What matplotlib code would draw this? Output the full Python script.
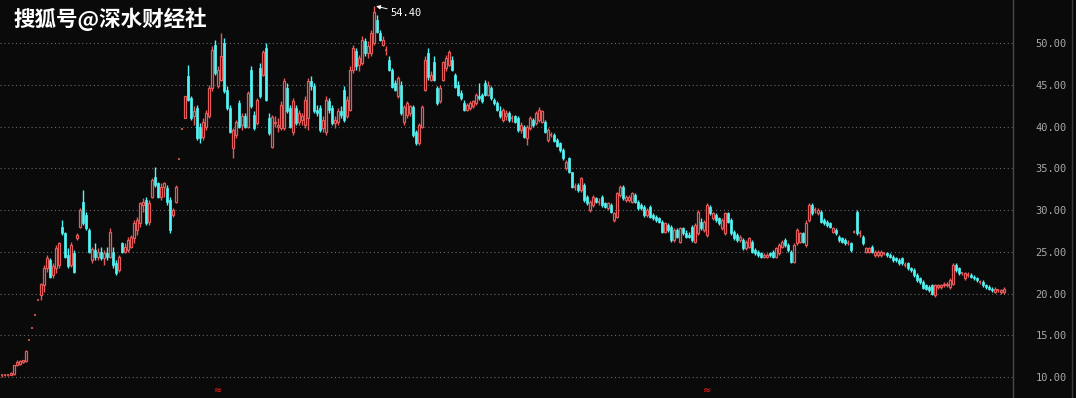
import matplotlib
matplotlib.use("Agg")
import matplotlib.pyplot as plt
import numpy as np

# daily OHLC, left to right
opens = [
    10.1, 10.2, 10.2, 10.3, 10.4, 11.4, 11.6, 11.8, 11.9, 14.4,
    15.9, 17.4, 19.2, 19.8, 21.0, 23.0, 24.0, 22.2, 23.0, 23.4,
    28.0, 27.2, 24.6, 23.4, 24.8, 26.6, 28.0, 31.0, 29.4, 27.6,
    24.0, 25.2, 24.4, 25.0, 24.2, 24.8, 24.4, 25.0, 23.6, 22.8,
    26.0, 25.0, 25.2, 25.6, 26.6, 27.6, 28.4, 30.6, 31.2, 28.6,
    31.6, 34.0, 33.2, 31.6, 32.8, 32.6, 31.2, 29.4, 31.0, 36.1,
    39.7, 41.0, 46.0, 43.4, 41.2, 42.2, 40.0, 38.8, 40.0, 41.2,
    44.6, 49.8, 44.8, 45.6, 50.0, 44.4, 42.2, 37.4, 39.0, 42.8,
    40.2, 41.2, 40.0, 46.8, 41.4, 40.4, 47.0, 46.2, 49.4, 41.0,
    37.6, 40.4, 40.0, 39.8, 39.8, 44.6, 42.2, 39.4, 42.2, 40.6,
    40.8, 40.2, 41.0, 45.4, 44.8, 42.0, 42.2, 39.8, 39.4, 43.0,
    42.2, 40.4, 40.6, 41.8, 44.4, 41.2, 42.0, 46.8, 49.0, 47.4,
    47.6, 50.2, 48.8, 48.8, 50.0, 52.8, 51.2, 49.8, 49.2, 48.0,
    46.8, 45.2, 43.6, 45.0, 40.5, 41.4, 41.6, 42.3, 39.4, 38.0,
    40.0, 44.4, 48.8, 45.6, 47.7, 44.6, 43.0, 45.6, 47.0, 47.4,
    48.0, 46.2, 45.0, 44.0, 42.8, 42.0, 42.2, 42.4, 42.8, 43.6,
    43.8, 45.2, 43.8, 44.6, 43.2, 42.8, 41.8, 40.8, 41.2, 41.6,
    41.0, 41.2, 41.0, 39.6, 40.0, 38.6, 39.8, 40.8, 40.4, 40.8,
    40.6, 40.5, 38.4, 39.0, 39.0, 38.4, 38.0, 37.2, 35.0, 36.2,
    34.5, 32.8, 33.0, 32.4, 33.0, 31.6, 30.0, 30.6, 31.4, 31.0,
    31.6, 30.8, 30.2, 30.6, 28.8, 29.2, 31.8, 32.8, 31.2, 31.2,
    31.0, 31.8, 31.0, 30.6, 30.4, 29.4, 30.4, 29.4, 29.2, 29.0,
    28.6, 27.4, 28.2, 28.0, 26.4, 27.6, 26.2, 27.8, 27.2, 27.0,
    28.0, 26.2, 27.2, 28.6, 27.6, 27.0, 30.4, 29.0, 29.4, 29.0,
    27.8, 27.2, 29.6, 28.8, 27.4, 27.0, 26.4, 26.4, 25.4, 25.6,
    26.2, 25.2, 25.0, 24.8, 24.4, 24.4, 24.8, 25.0, 24.4, 24.8,
    25.6, 26.4, 25.8, 25.0, 23.8, 26.0, 26.2, 27.2, 25.8, 28.8,
    30.6, 30.0, 29.6, 29.8, 28.8, 28.6, 28.4, 27.4, 27.6, 26.8,
    26.6, 26.4, 26.0, 26.0, 27.4, 29.8, 27.2, 26.8, 25.0, 25.0,
    25.6, 24.6, 24.6, 24.6, 24.8, 24.8, 24.6, 24.4, 24.2, 24.0,
    24.2, 23.4, 23.6, 23.0, 22.8, 22.2, 21.8, 21.4, 21.0, 20.8,
    21.0, 19.8, 20.8, 20.8, 21.0, 21.0, 20.8, 21.2, 23.4, 23.0,
    22.4, 21.8, 22.2, 22.2, 22.0, 21.8, 21.4, 21.4, 21.0, 20.8,
    20.6, 20.2, 20.4, 20.2, 20.2,
]
highs = [
    10.3, 10.4, 10.4, 10.6, 11.5, 12.0, 12.0, 12.1, 13.2, 14.4,
    15.9, 17.4, 19.2, 21.3, 23.4, 24.6, 24.3, 23.6, 25.8, 26.2,
    28.8, 27.4, 25.4, 26.2, 25.2, 27.3, 30.2, 32.4, 29.8, 27.8,
    25.6, 26.0, 25.4, 25.6, 25.2, 25.6, 27.8, 25.6, 24.0, 24.6,
    26.2, 26.0, 26.8, 27.0, 28.8, 29.2, 31.0, 31.4, 31.6, 31.2,
    33.8, 35.2, 33.4, 33.2, 33.4, 33.0, 31.6, 30.2, 33.0, 36.1,
    39.7, 43.7, 47.4, 43.6, 42.4, 42.6, 40.4, 41.0, 42.0, 45.0,
    49.6, 50.4, 47.2, 51.2, 50.6, 44.8, 42.6, 39.8, 40.8, 43.2,
    41.6, 41.6, 44.2, 47.2, 41.8, 43.4, 47.6, 49.2, 50.0, 41.6,
    41.4, 41.2, 41.0, 43.0, 45.8, 45.2, 42.6, 43.4, 42.6, 42.0,
    41.6, 43.6, 45.8, 46.0, 45.2, 42.6, 42.6, 41.2, 43.6, 43.4,
    42.6, 41.2, 42.2, 42.4, 44.8, 43.6, 47.2, 49.8, 49.4, 48.6,
    50.8, 50.6, 50.2, 51.6, 54.4, 53.4, 51.6, 50.8, 49.6, 48.4,
    47.0, 45.6, 46.0, 45.4, 42.6, 43.0, 42.6, 42.6, 39.6, 40.4,
    42.6, 48.4, 49.4, 46.6, 48.4, 44.8, 45.0, 47.9, 48.6, 49.2,
    48.4, 46.4, 45.4, 44.4, 43.2, 42.8, 43.0, 43.2, 44.0, 45.2,
    44.0, 45.6, 45.4, 44.8, 43.4, 43.0, 42.4, 42.2, 42.0, 41.8,
    41.4, 41.4, 41.2, 40.6, 40.2, 40.2, 41.2, 41.0, 41.8, 42.3,
    42.0, 40.8, 39.8, 39.4, 39.2, 38.6, 38.2, 37.4, 36.0, 36.4,
    34.6, 33.2, 33.2, 34.0, 33.2, 31.8, 31.2, 31.8, 31.6, 31.4,
    31.8, 31.0, 31.0, 30.8, 29.8, 32.2, 33.0, 33.0, 31.8, 31.8,
    32.2, 32.0, 31.2, 30.8, 30.6, 30.2, 30.6, 29.6, 29.4, 29.2,
    28.8, 28.6, 28.4, 28.2, 27.8, 27.8, 28.0, 28.0, 27.6, 27.4,
    28.2, 28.4, 30.0, 29.0, 28.8, 30.8, 30.6, 29.8, 29.6, 29.2,
    29.0, 29.8, 29.8, 29.0, 27.6, 27.2, 27.0, 26.6, 26.4, 26.8,
    26.4, 25.4, 25.2, 25.0, 24.8, 24.8, 25.0, 25.2, 25.6, 26.0,
    26.4, 26.6, 26.0, 25.2, 26.0, 27.8, 27.4, 27.4, 28.8, 30.8,
    30.8, 30.4, 30.2, 30.0, 29.0, 28.8, 28.6, 28.0, 27.8, 27.0,
    26.8, 26.6, 26.4, 26.2, 27.6, 30.0, 27.6, 27.0, 25.6, 25.6,
    25.8, 25.2, 25.2, 25.2, 25.0, 25.0, 24.8, 24.6, 24.4, 24.2,
    24.4, 23.8, 23.8, 23.2, 23.0, 22.4, 22.0, 21.6, 21.2, 21.0,
    21.2, 21.2, 21.2, 21.2, 21.4, 21.4, 21.8, 23.6, 23.6, 23.2,
    22.6, 22.6, 22.6, 22.4, 22.2, 22.0, 21.6, 21.6, 21.2, 21.0,
    20.8, 20.8, 20.6, 20.6, 20.8,
]
lows = [
    10.0, 10.1, 10.1, 10.2, 10.3, 11.3, 11.5, 11.7, 11.8, 14.4,
    15.9, 17.4, 19.2, 19.2, 20.2, 22.6, 21.8, 21.8, 22.4, 23.0,
    27.0, 24.2, 23.0, 23.2, 22.4, 26.4, 27.8, 28.2, 27.6, 24.8,
    23.6, 24.0, 24.0, 24.0, 23.4, 24.0, 24.2, 23.0, 22.2, 22.6,
    24.8, 24.8, 25.0, 25.4, 26.0, 27.0, 28.0, 29.8, 28.2, 28.2,
    31.4, 32.8, 31.4, 31.2, 31.6, 30.6, 27.2, 29.2, 30.8, 36.1,
    39.7, 41.0, 43.0, 40.8, 40.2, 38.4, 38.0, 38.4, 39.6, 41.0,
    44.2, 46.2, 44.6, 45.4, 44.0, 42.0, 39.2, 36.2, 38.6, 39.8,
    39.6, 39.8, 39.8, 42.2, 39.6, 40.2, 43.4, 46.0, 43.0, 39.0,
    37.4, 40.0, 39.4, 39.6, 39.6, 41.6, 39.8, 39.0, 40.2, 40.2,
    40.2, 39.8, 39.6, 44.4, 41.6, 41.2, 39.4, 39.4, 39.0, 41.6,
    40.2, 39.8, 40.2, 41.0, 40.6, 41.0, 41.8, 46.4, 46.8, 46.6,
    47.4, 48.4, 48.2, 48.4, 49.8, 51.2, 50.2, 49.6, 48.6, 46.6,
    44.6, 44.2, 43.4, 41.4, 40.2, 41.0, 41.2, 38.8, 37.8, 37.8,
    39.8, 44.2, 45.6, 45.4, 45.4, 42.6, 42.8, 45.4, 46.6, 47.2,
    46.6, 44.6, 43.6, 43.2, 41.8, 41.8, 42.0, 42.2, 42.6, 43.2,
    42.8, 43.6, 43.6, 43.2, 42.6, 41.8, 41.0, 40.6, 40.8, 40.6,
    40.6, 40.4, 39.4, 39.2, 38.6, 37.8, 39.6, 40.0, 40.2, 40.6,
    40.4, 39.2, 38.2, 38.8, 38.2, 37.6, 37.0, 36.0, 34.8, 34.4,
    32.6, 32.4, 32.2, 32.2, 31.0, 30.6, 29.8, 30.4, 30.8, 30.6,
    30.4, 30.2, 30.0, 29.6, 28.6, 29.0, 31.6, 31.2, 31.0, 31.0,
    30.8, 30.8, 30.0, 30.0, 29.2, 29.2, 29.0, 28.8, 28.6, 28.4,
    27.2, 27.2, 27.4, 26.2, 26.2, 26.6, 26.0, 27.0, 26.6, 26.6,
    26.2, 26.0, 27.0, 27.6, 27.4, 26.8, 29.4, 28.8, 28.6, 28.2,
    27.6, 27.0, 28.4, 27.0, 26.4, 26.2, 26.2, 25.2, 25.2, 25.4,
    24.8, 24.6, 24.4, 24.2, 24.2, 24.2, 24.4, 24.2, 24.2, 24.6,
    25.4, 25.6, 25.0, 23.6, 23.6, 25.8, 26.0, 26.0, 25.6, 28.6,
    29.4, 29.6, 29.4, 28.4, 28.2, 28.0, 27.8, 27.2, 27.0, 26.2,
    26.0, 25.8, 25.8, 25.0, 27.2, 27.0, 26.8, 25.8, 24.8, 24.8,
    24.8, 24.4, 24.4, 24.4, 24.6, 24.4, 24.2, 23.8, 23.8, 23.4,
    23.4, 23.2, 22.8, 22.6, 22.0, 21.4, 21.2, 20.6, 20.4, 20.2,
    19.8, 19.6, 20.6, 20.6, 20.8, 20.8, 20.6, 21.0, 22.6, 22.2,
    22.2, 21.6, 22.0, 21.8, 21.6, 21.4, 21.2, 20.8, 20.6, 20.4,
    20.2, 20.1, 20.2, 20.0, 20.0,
]
closes = [
    10.2, 10.3, 10.3, 10.5, 11.4, 11.8, 11.9, 12.0, 13.1, 14.4,
    15.9, 17.4, 19.2, 21.1, 23.0, 24.2, 22.0, 23.3, 25.5, 26.0,
    27.3, 24.4, 23.3, 25.8, 22.6, 27.0, 30.0, 28.4, 27.8, 25.0,
    25.3, 24.4, 25.0, 24.2, 24.8, 24.4, 27.4, 23.4, 22.4, 24.4,
    25.0, 25.6, 26.4, 26.8, 28.4, 28.8, 30.8, 31.0, 28.4, 30.8,
    33.6, 33.0, 31.6, 32.8, 33.2, 31.0, 27.6, 30.0, 32.8, 36.1,
    39.7, 43.6, 43.2, 41.0, 41.8, 38.6, 38.6, 40.6, 41.6, 44.6,
    49.2, 46.4, 46.8, 48.4, 44.2, 42.2, 39.4, 39.6, 40.6, 40.0,
    41.2, 40.0, 44.0, 42.4, 39.8, 43.2, 43.6, 48.9, 43.2, 39.2,
    41.1, 40.6, 40.2, 42.6, 45.4, 41.8, 40.0, 43.0, 40.4, 41.6,
    41.2, 43.2, 45.4, 44.8, 41.8, 41.6, 39.6, 40.8, 43.2, 42.0,
    40.4, 40.8, 41.8, 41.4, 40.8, 43.2, 46.8, 49.4, 47.2, 48.2,
    50.4, 48.8, 49.6, 51.2, 53.7, 51.3, 50.4, 50.4, 49.2, 46.8,
    44.7, 44.4, 45.8, 41.6, 42.3, 42.8, 42.4, 39.0, 38.0, 40.2,
    42.3, 48.0, 45.9, 46.2, 45.6, 42.8, 44.6, 47.7, 48.2, 48.9,
    46.8, 44.7, 43.8, 43.4, 42.0, 42.6, 42.8, 43.0, 43.8, 43.4,
    43.0, 43.8, 45.0, 43.4, 42.8, 42.0, 41.2, 42.0, 41.6, 40.8,
    41.0, 40.6, 39.6, 40.2, 38.7, 40.0, 41.0, 40.2, 41.6, 42.0,
    41.8, 39.3, 39.6, 39.0, 38.3, 37.7, 37.2, 36.2, 35.8, 34.5,
    32.8, 32.8, 32.4, 33.8, 31.2, 30.8, 31.0, 31.6, 31.0, 31.0,
    30.6, 30.4, 30.8, 29.8, 29.6, 32.0, 32.8, 31.4, 31.6, 31.6,
    32.0, 31.0, 30.2, 30.2, 29.4, 30.0, 29.2, 29.0, 28.8, 28.6,
    27.4, 28.4, 27.6, 26.4, 27.6, 26.8, 27.8, 27.2, 26.8, 26.8,
    26.4, 28.2, 29.8, 27.8, 28.6, 30.6, 29.6, 29.6, 28.8, 28.4,
    28.8, 29.6, 28.6, 27.2, 26.6, 26.4, 26.8, 25.4, 26.2, 26.6,
    25.0, 24.8, 24.6, 24.4, 24.6, 24.6, 24.6, 24.4, 25.4, 25.8,
    26.2, 25.8, 25.2, 23.8, 25.8, 27.6, 27.2, 26.2, 28.5, 30.6,
    29.6, 30.0, 30.0, 28.6, 28.4, 28.2, 28.0, 27.8, 27.2, 26.4,
    26.2, 26.0, 26.0, 25.2, 27.4, 27.2, 27.2, 26.0, 25.4, 25.4,
    25.0, 25.0, 25.0, 25.0, 24.8, 24.6, 24.4, 24.0, 24.0, 23.6,
    23.6, 23.4, 23.0, 22.8, 22.2, 21.6, 21.4, 20.7, 20.6, 20.4,
    19.9, 21.0, 21.0, 21.0, 21.2, 21.2, 21.6, 23.4, 22.8, 22.4,
    22.4, 22.4, 22.2, 22.0, 21.8, 21.6, 21.4, 21.0, 20.8, 20.6,
    20.4, 20.6, 20.4, 20.4, 20.6,
]
price_ticks = [10, 15, 20, 25, 30, 35, 40, 45, 50]
peak_label = "54.40"
watermark = "搜狐号@深水财经社"

BG = "#0a0a0a"
UP = "#e65a5a"
DOWN = "#52f5f5"

o = np.array(opens)
h = np.array(highs)
l = np.array(lows)
c = np.array(closes)
x = np.arange(len(c))

fig = plt.figure(figsize=(10.76, 3.98), dpi=100, facecolor=BG)
ax = fig.add_axes([0, 0, 1013 / 1076, 1], facecolor=BG)

up = c >= o
colors = np.where(up, UP, DOWN)
ax.vlines(x, l, h, colors=colors, linewidth=1, zorder=1)

w = 0.8
dn = ~up
ax.bar(x[dn], (o - c)[dn], bottom=c[dn], width=w, color=DOWN,
       edgecolor=DOWN, linewidth=0.5, zorder=2)
body_up = up & (c - o > 0.15)
ax.bar(x[body_up], (c - o)[body_up], bottom=o[body_up], width=w,
       facecolor=BG, edgecolor=UP, linewidth=0.9, zorder=2)
flat = up & ~body_up
ax.hlines(c[flat], x[flat] - w / 2, x[flat] + w / 2, colors=UP,
          linewidth=1.2, zorder=2)

for p in price_ticks:
    ax.axhline(p, color="#666666", linewidth=0.8,
               linestyle=(0, (1, 2.5)), zorder=0)

ax.set_xlim(-0.67, 337)
ax.set_ylim(7.49, 55.15)
ax.set_xticks([])
ax.yaxis.tick_right()
ax.set_yticks(price_ticks)
ax.set_yticklabels(["%.2f" % p for p in price_ticks])
ax.tick_params(axis="y", length=0, pad=16, labelcolor="#a8a8a8",
               labelsize=7.5)
for t in ax.get_yticklabels():
    t.set_fontfamily("DejaVu Sans Mono")
for s in ["top", "left", "bottom"]:
    ax.spines[s].set_visible(False)
ax.spines["right"].set_color("#4a4a4a")
ax.spines["right"].set_linewidth(1)

# second border line at the far right
fig.add_artist(plt.Line2D([1072 / 1076] * 2, [0, 1], color="#3a3a3a",
                          linewidth=1))

imax = int(np.argmax(h))
ax.annotate(peak_label, xy=(imax + 0.7, h[imax]), xytext=(imax + 5.3, 53.6),
            color="white", fontsize=7.5, family="DejaVu Sans Mono",
            va="center", ha="left",
            arrowprops=dict(arrowstyle="-|>", color="white", lw=0.7,
                            mutation_scale=6, shrinkA=0, shrinkB=0))

for xm in [72, 235]:
    ax.text(xm, 8.4, "≈", color="#d01818", fontsize=7, ha="center",
            va="center", fontweight="bold")

fig.text(13 / 1076, 1 - 7 / 398, watermark, color="white", fontsize=15.5,
         family=["Noto Sans CJK SC", "DejaVu Sans"], fontweight="bold",
         va="top", ha="left")

fig.savefig("out.png", dpi=100, facecolor=BG)
